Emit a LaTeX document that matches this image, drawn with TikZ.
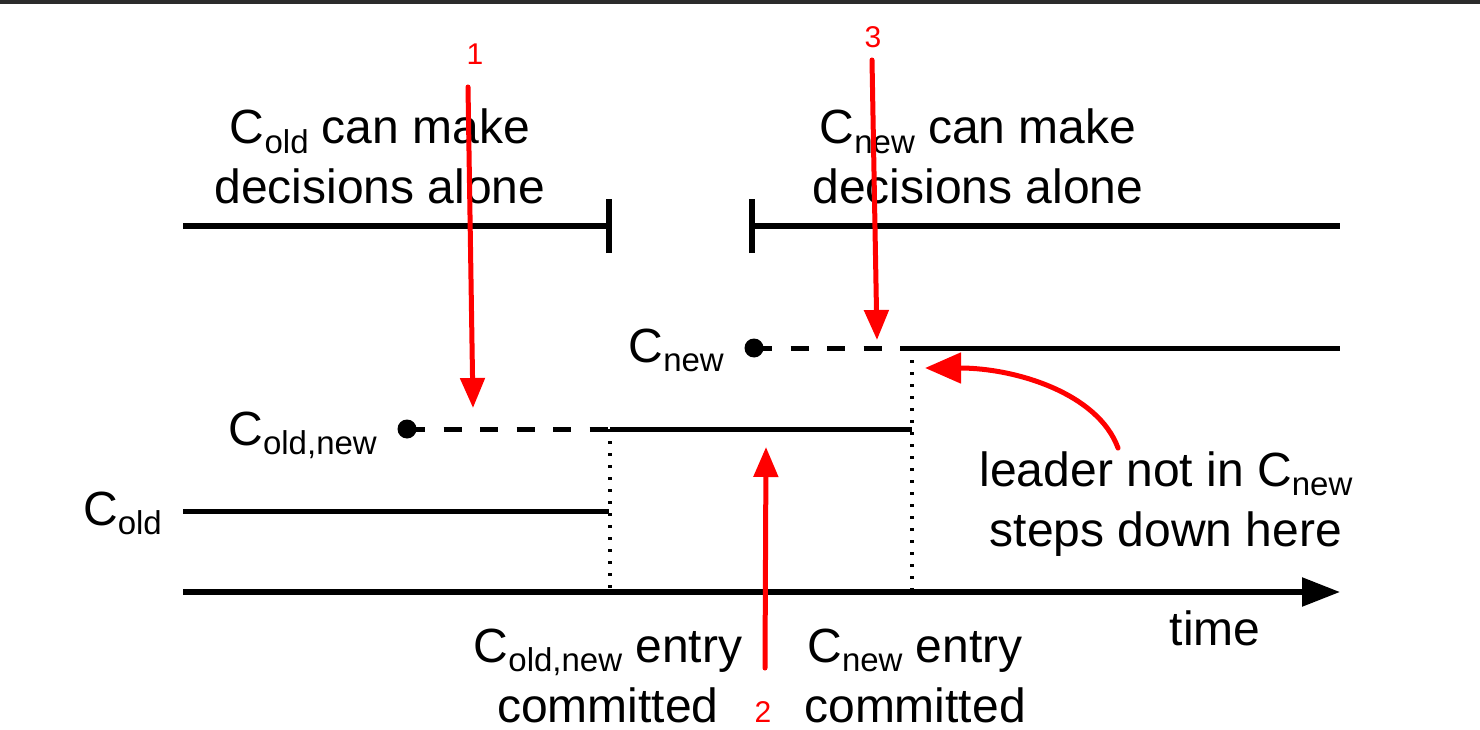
\documentclass[tikz,border=0pt]{standalone}
\usepackage{fontspec}
\setmainfont{Liberation Sans}
\usepackage{tikz}
\usetikzlibrary{arrows.meta, positioning}

\newcommand{\Csub}[1]{C\raisebox{-0.2em}{\fontsize{33}{33}\selectfont #1}}

\begin{document}
\begin{tikzpicture}[x=1pt, y=-1pt,
    lbl/.style={font=\fontsize{48}{60}\selectfont, inner sep=0pt, align=center},
    num/.style={font=\fontsize{30}{30}\selectfont, text=red, inner sep=0pt},
    span/.style={line width=5pt},
    tick/.style={line width=6pt},
    pending/.style={line width=5pt, dash pattern=on 18pt off 18.5pt},
    commit/.style={line width=3.2pt, dash pattern=on 3.2pt off 8.8pt},
    pointer/.style={red, line width=5pt, line cap=round, -{Triangle[length=30pt,width=24pt]}}]
    \useasboundingbox (0,0) rectangle (1480,730);
    \fill[black!83] (0,0) rectangle (1480,4);

    % who can decide alone
    \coordinate (oldA) at (183,226);
    \coordinate (oldB) at (609,226);
    \coordinate (newA) at (752,226);
    \coordinate (newB) at (1340,226);
    \draw[span] (oldA) -- (oldB);
    \draw[span] (newA) -- (newB);
    \draw[tick] ([yshift=-27pt]oldB) -- ([yshift=27pt]oldB);
    \draw[tick] ([yshift=-27pt]newA) -- ([yshift=27pt]newA);
    \node[lbl, anchor=base] (oldAlone) at (380,204) {\Csub{old} can make\\decisions alone};
    \node[lbl, anchor=base] (newAlone) at (978,204) {\Csub{new} can make\\decisions alone};

    % configurations
    \coordinate (cnewDot) at (754,348);
    \coordinate (cnewMid) at (912,348);
    \coordinate (cnewEnd) at (1340,348);
    \coordinate (jointDot) at (407,429);
    \coordinate (jointMid) at (610,429);
    \coordinate (jointEnd) at (912,429);
    \coordinate (coldA) at (183,511);
    \coordinate (coldB) at (609,511);

    \draw[pending] (cnewDot) -- (cnewMid);
    \draw[span] (cnewMid) -- (cnewEnd);
    \fill (cnewDot) circle (9.5pt);
    \draw[pending] (jointDot) -- (jointMid);
    \draw[span] (jointMid) -- (jointEnd);
    \fill (jointDot) circle (9.5pt);
    \draw[span] (coldA) -- (coldB);

    \node[lbl, anchor=base east] (cnewLbl) at (724,362) {\Csub{new}};
    \node[lbl, anchor=base east] (jointLbl) at (377,445) {\Csub{old,new}};
    \node[lbl, anchor=base east] (coldLbl) at (162,525) {\Csub{old}};

    % time axis
    \coordinate (axisA) at (183,592);
    \coordinate (axisB) at (1340,592);
    \coordinate (jointCommit) at (610,592);
    \coordinate (cnewCommit) at (912,592);
    \draw[line width=5.5pt, -{Triangle[length=38pt,width=28pt]}] (axisA) -- (axisB);
    \draw[commit] (jointMid) -- (jointCommit);
    \draw[commit] (cnewMid) -- (cnewCommit);
    \node[lbl, anchor=base] (timeLbl) at (1215,645) {time};
    \node[lbl, anchor=base] (jointEntry) at (608,722) {\Csub{old,new} entry\\committed};
    \node[lbl, anchor=base] (cnewEntry) at (915,722) {\Csub{new} entry\\committed};
    \node[lbl, anchor=base] (stepDown) at (1166,546) {leader not in \Csub{new}\\steps down here};

    % numbered pointers
    \coordinate (p1s) at (468,87);
    \coordinate (p1t) at (473,408);
    \coordinate (p2s) at (765,668);
    \coordinate (p2t) at (766,447);
    \coordinate (p3s) at (872,60);
    \coordinate (p3t) at (877,340);
    \draw[pointer] (p1s) -- (p1t);
    \draw[pointer] (p2s) -- (p2t);
    \draw[pointer] (p3s) -- (p3t);
    \node[num, anchor=base] (n1) at (475,65) {1};
    \node[num, anchor=base] (n2) at (763,722) {2};
    \node[num, anchor=base] (n3) at (873,48) {3};

    \coordinate (leaderS) at (1118,448);
    \coordinate (leaderT) at (925,368);
    \draw[pointer, -{Triangle[length=36pt,width=30pt]}] (leaderS) .. controls +(-20,-55) and +(90,0) .. (leaderT);
\end{tikzpicture}
\end{document}
